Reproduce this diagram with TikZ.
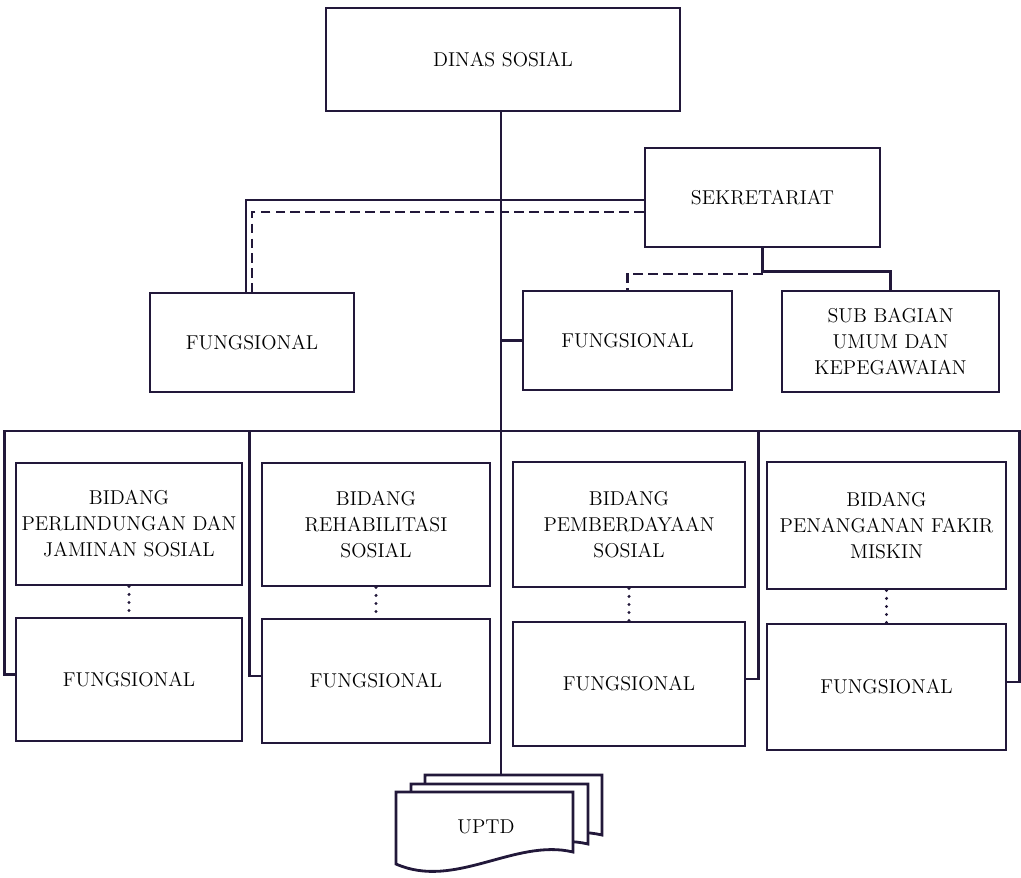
\documentclass[tikz,border=0pt]{standalone}
\usetikzlibrary{positioning}
\definecolor{ink}{RGB}{34,24,58}
\begin{document}
\begin{tikzpicture}[x=0.02cm,y=-0.02cm,
  every node/.style={font=\fontsize{11.4}{14.8}\selectfont, align=center, text=black},
  unit/.style 2 args={draw=ink, line width=1.6pt, minimum width=#1, minimum height=#2, inner sep=2pt},
  link/.style={draw=ink, line width=1.4pt},
  dashlink/.style={link, dash pattern=on 5.5pt off 3pt},
  dotlink/.style={draw=ink, line width=1.9pt, line cap=round, dash pattern=on 0pt off 2.4\pgflinewidth}]
\useasboundingbox (0,0) rectangle (1021,877);
% top part
\node[unit={7.08cm}{2.06cm}] (dinas) at (503,59.5) {DINAS SOSIAL};
\node[unit={4.7cm}{1.98cm}] (sekre) at (762.5,197.5) {SEKRETARIAT};
\node[unit={4.08cm}{1.98cm}] (fungL) at (252,342.5) {FUNGSIONAL};
\node[unit={4.18cm}{1.98cm}] (fungM) at (627.5,340.5) {FUNGSIONAL};
\node[unit={4.34cm}{2.02cm}] (subbag) at (890.5,341.5) {SUB BAGIAN\\UMUM DAN\\KEPEGAWAIAN};
% bidang
\node[unit={4.52cm}{2.44cm}] (bid1) at (129,524) {BIDANG\\PERLINDUNGAN DAN\\JAMINAN SOSIAL};
\node[unit={4.56cm}{2.46cm}] (bid2) at (376,524.5) {BIDANG\\REHABILITASI\\SOSIAL};
\node[unit={4.64cm}{2.5cm}] (bid3) at (629,524.5) {BIDANG\\PEMBERDAYAAN\\SOSIAL};
\node[unit={4.78cm}{2.54cm}] (bid4) at (886.5,525.5) {BIDANG\\PENANGANAN FAKIR\\MISKIN};
\node[unit={4.52cm}{2.46cm}] (fung1) at (129,679.5) {FUNGSIONAL};
\node[unit={4.56cm}{2.48cm}] (fung2) at (376,681) {FUNGSIONAL};
\node[unit={4.64cm}{2.48cm}] (fung3) at (629,684) {FUNGSIONAL};
\node[unit={4.78cm}{2.52cm}] (fung4) at (886.5,687) {FUNGSIONAL};
\coordinate (uptdtop) at (501,775);
\coordinate (bus) at (501,431);
% main line
\draw[link] (uptdtop |- dinas.south) -- (uptdtop);
\draw[link] (fungM.west) -- (fungM.west -| uptdtop);
\draw[link] ([yshift=-0.05cm]sekre.west) -| ([xshift=-0.12cm]fungL.north);
\draw[dashlink] ([yshift=-0.29cm]sekre.west) -| (fungL.north);
\draw[link] (sekre.south) -- ++(0,23) -| (subbag.north);
\draw[dashlink] (sekre.south) ++(0,25.5) -| (fungM.north);
% bus to bidang
\draw[link] ([yshift=0.1cm]fung1.west) -- ++(-10,0) |- (bus);
\draw[link] ([yshift=0.1cm]fung2.west) -- ++(-11,0) |- (bus);
\draw[link] ([yshift=0.1cm]fung3.east) -- ++(12,0) |- (bus);
\draw[link] ([yshift=0.1cm]fung4.east) -- ++(12,0) |- (bus);
\draw[dotlink] (bid1.south) -- (fung1.north);
\draw[dotlink] (bid2.south) -- (fung2.north);
\draw[dotlink] (bid3.south) -- (fung3.north);
\draw[dotlink] (bid4.south) -- (fung4.north);
% uptd pages
\foreach \dx/\dy in {29/-17,15/-8,0/0}
  \draw[draw=ink, line width=1.6pt, fill=white, shift={(\dx,\dy)}]
    (396,792) -- (573,792) -- (573,852) .. controls (515,838) and (455,890) .. (396,864) -- cycle;
\node (uptd) at (486,827) {UPTD};
\end{tikzpicture}
\end{document}
